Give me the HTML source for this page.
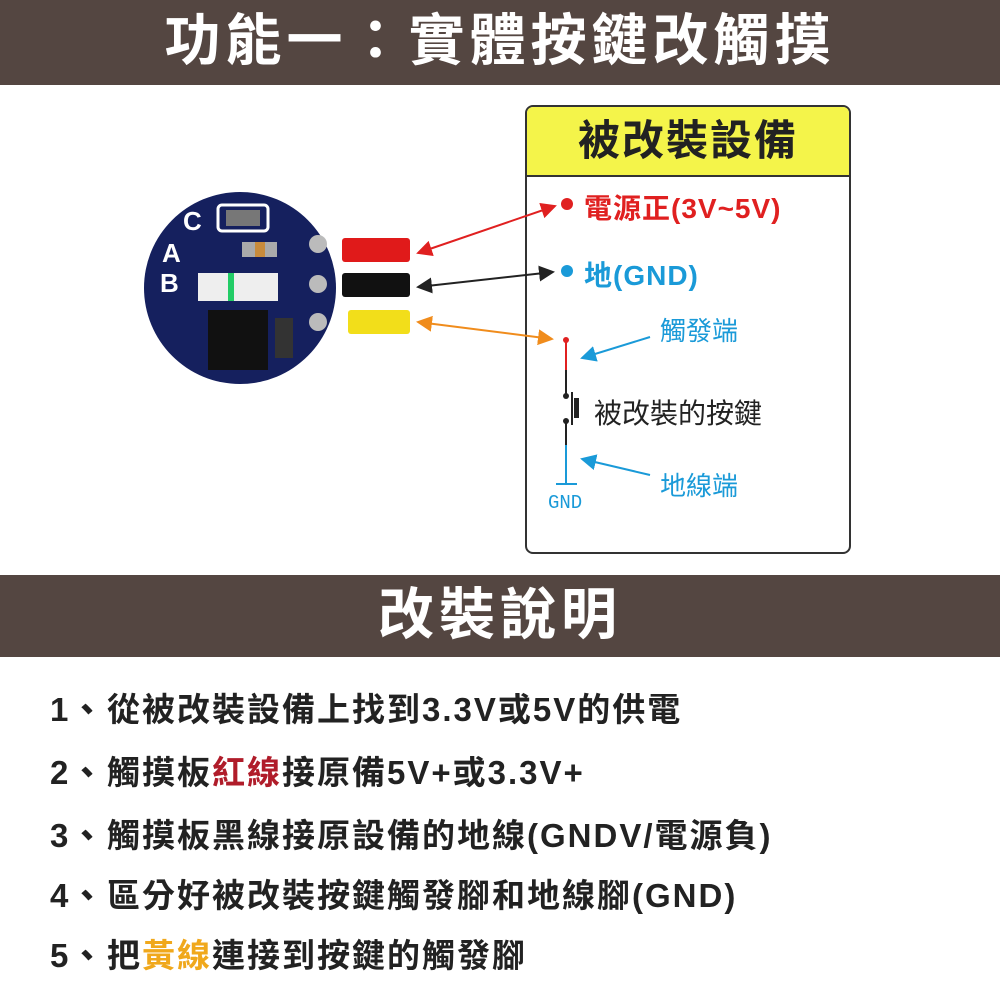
<!DOCTYPE html>
<html><head><meta charset="utf-8"><style>
body{margin:0;width:1000px;height:1000px;background:#fff;position:relative;overflow:hidden;font-family:"Liberation Sans","Noto Sans CJK TC",sans-serif}
.bar{position:absolute;left:0;width:1000px;background:#544641;color:#fff;font-weight:bold;text-align:center}
.li{position:absolute;left:50px;font-size:33px;color:#222;white-space:nowrap;font-weight:bold;letter-spacing:2px}
.li b{display:inline-block;width:57px}
</style></head><body>
<div class="bar" style="top:0;height:85px;line-height:82px;font-size:56px;letter-spacing:5px">功能一：實體按鍵改觸摸</div>
<div class="bar" style="top:575px;height:82px;line-height:80px;font-size:56px;letter-spacing:5px">改裝說明</div>

<div style="position:absolute;left:525px;top:105px;width:322px;height:445px;border:2px solid #333;border-radius:8px;overflow:hidden">
<div style="height:68px;background:#f4f44a;border-bottom:2px solid #333;text-align:center;line-height:68px;font-size:42px;font-weight:bold;color:#222;letter-spacing:2px">被改裝設備</div>
</div>

<svg width="1000" height="1000" style="position:absolute;left:0;top:0">
<defs>
<marker id="ar" markerWidth="8" markerHeight="8" refX="7" refY="4" orient="auto-start-reverse"><path d="M0,0L8,4L0,8z" fill="#e02020"/></marker>
<marker id="ak" markerWidth="8" markerHeight="8" refX="7" refY="4" orient="auto-start-reverse"><path d="M0,0L8,4L0,8z" fill="#222"/></marker>
<marker id="ao" markerWidth="8" markerHeight="8" refX="7" refY="4" orient="auto-start-reverse"><path d="M0,0L8,4L0,8z" fill="#f08c1c"/></marker>
<marker id="ab" markerWidth="8" markerHeight="8" refX="7" refY="4" orient="auto"><path d="M0,0L8,4L0,8z" fill="#1a9ad8"/></marker>
</defs>
<circle cx="240" cy="288" r="96" fill="#15205e"/>
<rect x="218" y="205" width="50" height="26" rx="4" fill="none" stroke="#fff" stroke-width="3"/>
<rect x="226" y="210" width="34" height="16" fill="#777"/>
<text x="183" y="230" fill="#fff" font-size="26" font-weight="bold">C</text>
<text x="162" y="262" fill="#fff" font-size="26" font-weight="bold">A</text>
<text x="160" y="292" fill="#fff" font-size="26" font-weight="bold">B</text>
<rect x="242" y="242" width="35" height="15" fill="#aaa"/><rect x="255" y="242" width="10" height="15" fill="#c88b3c"/>
<rect x="198" y="273" width="80" height="28" fill="#eee"/><rect x="228" y="273" width="6" height="28" fill="#2c6"/>
<rect x="208" y="310" width="60" height="60" fill="#111"/>
<rect x="275" y="318" width="18" height="40" fill="#333"/>
<circle cx="318" cy="244" r="9" fill="#bbb"/><circle cx="318" cy="284" r="9" fill="#bbb"/><circle cx="318" cy="322" r="9" fill="#bbb"/>
<rect x="342" y="238" width="68" height="24" rx="3" fill="#e01a1a"/>
<rect x="342" y="273" width="68" height="24" rx="3" fill="#111"/>
<rect x="348" y="310" width="62" height="24" rx="3" fill="#f2de1a"/>
<line x1="418" y1="253" x2="555" y2="206" stroke="#e02020" stroke-width="2" marker-start="url(#ar)" marker-end="url(#ar)"/>
<line x1="418" y1="287" x2="553" y2="272" stroke="#222" stroke-width="2" marker-start="url(#ak)" marker-end="url(#ak)"/>
<line x1="418" y1="322" x2="552" y2="339" stroke="#f08c1c" stroke-width="2" marker-start="url(#ao)" marker-end="url(#ao)"/>
<circle cx="567" cy="204" r="6" fill="#e02020"/>
<circle cx="567" cy="271" r="6" fill="#1a9ad8"/>
<circle cx="566" cy="340" r="3" fill="#e02020"/>
<line x1="566" y1="340" x2="566" y2="370" stroke="#e02020" stroke-width="2"/>
<line x1="566" y1="370" x2="566" y2="395" stroke="#222" stroke-width="2"/>
<circle cx="566" cy="396" r="3" fill="#222"/><circle cx="566" cy="421" r="3" fill="#222"/>
<line x1="572" y1="392" x2="572" y2="425" stroke="#222" stroke-width="2"/><rect x="574" y="398" width="5" height="20" fill="#222"/>
<line x1="566" y1="421" x2="566" y2="445" stroke="#222" stroke-width="2"/>
<line x1="566" y1="445" x2="566" y2="484" stroke="#1a9ad8" stroke-width="2"/>
<line x1="556" y1="484" x2="577" y2="484" stroke="#1a9ad8" stroke-width="2"/>
<line x1="650" y1="337" x2="582" y2="358" stroke="#1a9ad8" stroke-width="2" marker-end="url(#ab)"/>
<line x1="650" y1="475" x2="582" y2="459" stroke="#1a9ad8" stroke-width="2" marker-end="url(#ab)"/>
<text x="548" y="508" fill="#1a9ad8" font-size="19" font-family="Liberation Mono,monospace">GND</text>
</svg>
<div style="position:absolute;left:584px;top:187px;font-size:28px;color:#e02020;white-space:nowrap;font-weight:bold;letter-spacing:1px">電源正(3V~5V)</div>
<div style="position:absolute;left:584px;top:254px;font-size:28px;color:#1a9ad8;white-space:nowrap;font-weight:bold;letter-spacing:1px">地(GND)</div>
<div style="position:absolute;left:660px;top:311px;font-size:26px;color:#1a9ad8">觸發端</div>
<div style="position:absolute;left:594px;top:392px;font-size:28px;color:#222">被改裝的按鍵</div>
<div style="position:absolute;left:660px;top:466px;font-size:26px;color:#1a9ad8">地線端</div>

<div class="li" style="top:683px"><b>1、</b>從被改裝設備上找到3.3V或5V的供電</div>
<div class="li" style="top:746px"><b>2、</b>觸摸板<span style="color:#b01c2a">紅線</span>接原備5V+或3.3V+</div>
<div class="li" style="top:809px"><b>3、</b>觸摸板黑線接原設備的地線(GNDV/電源負)</div>
<div class="li" style="top:869px"><b>4、</b>區分好被改裝按鍵觸發腳和地線腳(GND)</div>
<div class="li" style="top:929px"><b>5、</b>把<span style="color:#f0a81c">黃線</span>連接到按鍵的觸發腳</div>
</body></html>
